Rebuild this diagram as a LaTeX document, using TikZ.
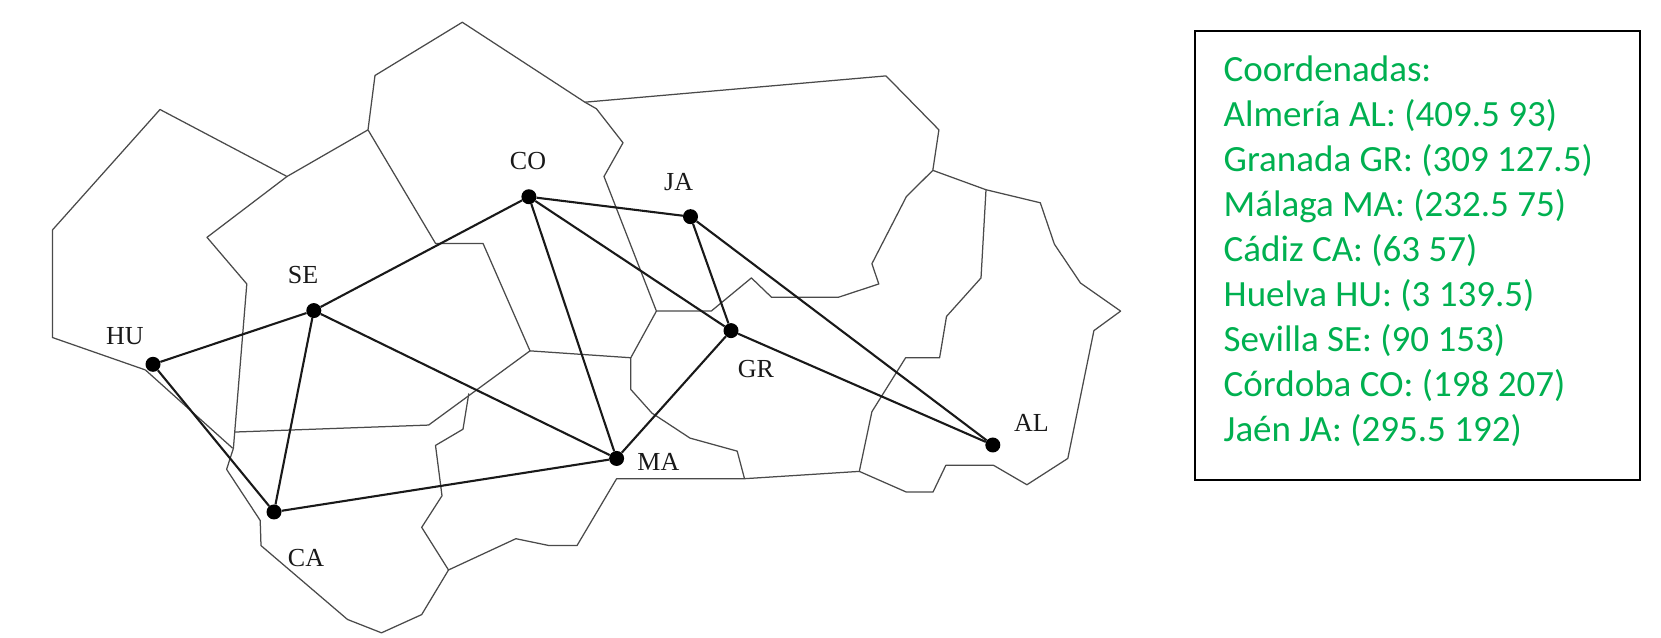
\documentclass[tikz,border=0pt]{standalone}
\usepackage{fontspec}
\setmainfont{Liberation Serif}
\newfontfamily\calfont{Carlito}
\definecolor{mapline}{HTML}{4A4A4A}
\definecolor{coordgreen}{HTML}{00B050}
\tikzset{
  border/.style={draw=mapline,line width=1.25pt,line join=round},
  city/.style={circle,fill=black,inner sep=0pt,minimum size=15pt},
  link/.style={draw=black!90,line width=2.1pt},
  citylabel/.style={font=\fontsize{26}{28}\selectfont,text=black!90,inner sep=0pt},
  infobox/.style={draw=black,line width=2.2pt}
}
\begin{document}
\begin{tikzpicture}[x=1pt,y=-1pt]
\useasboundingbox (0,0) rectangle (1661,637);
\begin{scope}[y=-1.06pt]
% outer outline
\draw[border] (145.4,349) -- (52.4,318.4) -- (52.4,217) -- (160,103.3) -- (287,166.5) -- (368,122.5) -- (375,71.2) -- (462.3,21) -- (584.9,96.4) -- (596.4,102.6) -- (623,134.7) -- (604,166.5) -- (656.4,293.5) -- (630.8,337.5) -- (630.8,367.4) -- (651.8,389.6) -- (690,413.3) -- (737.2,425.6) -- (744.5,451.6);
\draw[border] (584.9,96.4) -- (886,71.6) -- (938.9,122.5) -- (932.8,160.7) -- (986,179) -- (1040.3,191.3) -- (1054.4,230.4) -- (1080.5,267) -- (1120.6,293.5) -- (1093.9,311.9) -- (1067.8,432.5) -- (1026.9,457.3) -- (993.6,439) -- (945.8,439) -- (933,464.2) -- (906.3,464.2) -- (859.3,444.7) -- (744.5,451.6) -- (616.6,451.6) -- (577,514.7) -- (549.2,514.7) -- (515.9,508.2) -- (448.5,537.7) -- (421.7,579.8) -- (381.5,597) -- (347.5,584.4) -- (261,514.7) -- (260.2,491) -- (226.6,442.8) -- (233.4,422.9) -- (246.8,267.9) -- (207,223.9) -- (287,166.5);
\draw[border] (145.4,349) -- (232.7,422.9);
\draw[border] (234.2,407.6) -- (428.6,401) -- (530,331) -- (483,229.6) -- (435.5,229.6) -- (368,122.5);
\draw[border] (530,331) -- (630.8,337.5);
\draw[border] (656.4,293.5) -- (711.2,293.5) -- (751.4,262.2) -- (771.6,280.5) -- (838.2,280.5) -- (878.8,267.9) -- (871.9,248.8) -- (906.3,185.6) -- (932.8,160.7);
\draw[border] (986,179) -- (981,262.2) -- (946.5,298.5) -- (939.6,337.5) -- (905.6,337.5) -- (871.9,388.4) -- (859.3,444.7);
\draw[border] (468.8,371.2) -- (463,404.9) -- (435.5,420.2) -- (442,467.7) -- (421.7,497.5) -- (448.5,537.7);
% cities
\node[city] (HU) at (153,343.7) {};
\node[city] (SE) at (313.8,293) {};
\node[city] (CO) at (528.9,185.6) {};
\node[city] (JA) at (690.5,204.4) {};
\node[city] (GR) at (731,311.9) {};
\node[city] (AL) at (992.8,419.8) {};
\node[city] (MA) at (616.6,432.5) {};
\node[city] (CA) at (274,483) {};
% links
\draw[link] (HU) -- (SE);
\draw[link] (HU) -- (CA);
\draw[link] (SE) -- (CO);
\draw[link] (SE) -- (CA);
\draw[link] (SE) -- (MA);
\draw[link] (CA) -- (MA);
\draw[link] (CO) -- (MA);
\draw[link] (CO) -- (JA);
\draw[link] (CO) -- (GR);
\draw[link] (JA) -- (GR);
\draw[link] (JA) -- (AL);
\draw[link] (GR) -- (AL);
\draw[link] (GR) -- (MA);
% labels
\node[citylabel] (lHU) at (125,317) {HU};
\node[citylabel] (lSE) at (303,259) {SE};
\node[citylabel] (lCO) at (528,152) {CO};
\node[citylabel] (lJA) at (678.6,171.4) {JA};
\node[citylabel] (lGR) at (756,348) {GR};
\node[citylabel] (lAL) at (1031.5,399) {AL};
\node[citylabel] (lMA) at (658.4,436) {MA};
\node[citylabel] (lCA) at (306,526) {CA};
\end{scope}
% info box
\draw[infobox] (1195,30.7) rectangle (1640,480);
\node[anchor=north west,inner sep=0pt,align=left,text=coordgreen,font=\calfont\fontsize{37}{45}\selectfont] (info) at (1223.5,56) {Coordenadas:\\Almería AL: (409.5 93)\\Granada GR: (309 127.5)\\Málaga MA: (232.5 75)\\Cádiz CA: (63 57)\\Huelva HU: (3 139.5)\\Sevilla SE: (90 153)\\Córdoba CO: (198 207)\\Jaén JA: (295.5 192)};
\end{tikzpicture}
\end{document}
